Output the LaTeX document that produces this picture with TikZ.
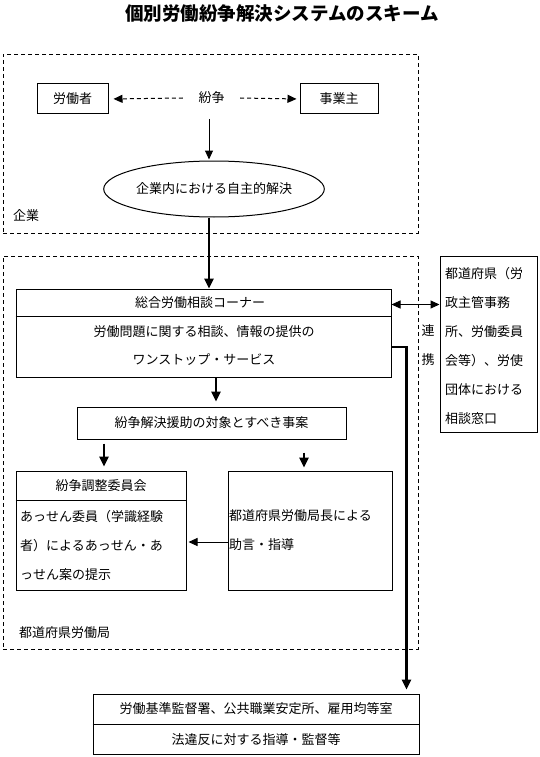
\documentclass[tikz,border=0pt]{standalone}
\usepackage{fontspec}
\setmainfont{Noto Sans CJK JP}
\usetikzlibrary{arrows.meta,shapes.geometric,calc}
\begin{document}
\begin{tikzpicture}[x=1pt,y=-1pt,
  base/.style={font=\fontsize{13}{15}\selectfont},
  box/.style={draw, rectangle, line width=1pt, inner sep=0pt, base},
  frame/.style={draw, rectangle, dash pattern=on 4pt off 3pt, line width=0.9pt, inner sep=0pt},
  txt/.style={inner sep=0pt, base},
  ltxt/.style={txt, anchor=west},
  thinarr/.style={line width=1pt, -{Triangle[length=9pt,width=8pt]}},
  dasharr/.style={thinarr, dash pattern=on 4pt off 3pt},
  thkarr/.style={line width=2.4pt, -{Triangle[length=10pt,width=9pt]}},
  dblarr/.style={line width=1pt, {Triangle[length=9pt,width=8pt]}-{Triangle[length=9pt,width=8pt]}}
]
\useasboundingbox (0,0) rectangle (540,757);
\fill[white] (0,0) rectangle (540,757);

% title
\node[inner sep=0pt, font=\fontsize{18.5}{20}\selectfont\bfseries] (title) at (282,13) {個別労働紛争解決システムのスキーム};

% company frame
\node[frame, minimum width=415pt, minimum height=179pt] (kigyo) at (210.5,143.5) {};
\node[ltxt] (kigyolbl) at (13,216) {企業};

\node[box, minimum width=71pt, minimum height=30pt] (worker) at (72.5,99) {労働者};
\node[box, minimum width=78pt, minimum height=30pt] (employer) at (339,99) {事業主};
\node[txt, minimum width=57pt] (dispute) at (211.5,98) {紛争};
\draw[dasharr, shorten >=5pt] (dispute.west) -- (worker.east);
\draw[dasharr, shorten >=3pt] (dispute.east) -- (employer.west);

\node[draw, ellipse, line width=1pt, inner sep=0pt, minimum width=213pt, minimum height=56pt, base] (self) at (214,189) {企業内における自主的解決};
\coordinate (d0) at (209,119);
\draw[thinarr, shorten >=1pt] (d0) -- (d0 |- self.north);

% labour bureau frame
\node[frame, minimum width=415pt, minimum height=393pt] (kyoku) at (210.5,452.5) {};
\node[ltxt] (kyokulbl) at (19,633) {都道府県労働局};

% general counselling corner
\node[box, minimum width=375pt, minimum height=88pt] (sogo) at (203.5,333) {};
\draw[line width=1pt] ([yshift=-28pt]sogo.north west) -- ([yshift=-28pt]sogo.north east);
\node[txt] (sogo1) at (200,303) {総合労働相談コーナー};
\node[txt] (sogo2) at (204,332) {労働問題に関する相談、情報の提供の};
\node[txt] (sogo3) at (204,360) {ワンストップ・サービス};

\draw[thkarr] (d0 |- self.south) -- (d0 |- sogo.north);

% cooperation box
\node[box, minimum width=97pt, minimum height=176pt] (renkei) at (488.5,344) {};
\node[ltxt] (r1) at (445,274) {都道府県（労};
\node[ltxt] (r2) at (445,303) {政主管事務};
\node[ltxt] (r3) at (445,332) {所、労働委員};
\node[ltxt] (r4) at (445,361) {会等）、労使};
\node[ltxt] (r5) at (445,390) {団体における};
\node[ltxt] (r6) at (445,419) {相談窓口};
\node[txt] (ren) at (428,331) {連};
\node[txt] (kei) at (428,360) {携};
\coordinate (da) at ([yshift=-16pt]sogo.north east);
\draw[dblarr] (da) -- (da -| renkei.west);

% target cases
\node[box, minimum width=269pt, minimum height=32pt] (taisho) at (211.5,423) {紛争解決援助の対象とすべき事案};
\coordinate (ta) at ([xshift=4.5pt]taisho.north);
\draw[thkarr, shorten >=5pt] (sogo.south -| ta) -- (ta);

% mediation committee
\node[box, minimum width=170pt, minimum height=119pt] (chosei) at (101,530.5) {};
\draw[line width=1pt] ([yshift=-30pt]chosei.north west) -- ([yshift=-30pt]chosei.north east);
\node[txt] (c0) at (101,486) {紛争調整委員会};
\node[ltxt] (c1) at (20,517) {あっせん委員（学識経験};
\node[ltxt] (c2) at (20,546) {者）によるあっせん・あ};
\node[ltxt] (c3) at (20,575) {っせん案の提示};

% director advice
\node[box, minimum width=164pt, minimum height=119pt] (jogen) at (310,530.5) {};
\node[ltxt] (j1) at (229,516) {都道府県労働局長による};
\node[ltxt] (j2) at (229,545) {助言・指導};

\coordinate (ca) at ([xshift=3pt]chosei.north);
\coordinate (ja) at ([xshift=-6pt]jogen.north);
\coordinate (jw) at ([yshift=-11.5pt]jogen.west);
\draw[thkarr, shorten <=4pt, shorten >=4pt] (ca |- taisho.south) -- (ca);
\draw[thkarr, shorten <=13pt, shorten >=3pt] (ja |- taisho.south) -- (ja);
\draw[thinarr, shorten >=2pt] (jw) -- (jw -| chosei.east);

% inspection offices
\node[box, minimum width=326pt, minimum height=60pt] (kantoku) at (256,724) {};
\draw[line width=1pt] (kantoku.west) -- (kantoku.east);
\node[txt] (k1) at (256,709) {労働基準監督署、公共職業安定所、雇用均等室};
\node[txt] (k2) at (256,740) {法違反に対する指導・監督等};

\coordinate (se) at ([yshift=-14pt]sogo.east);
\coordinate (ke) at ([xshift=-13pt]kantoku.north east);
\draw[thkarr, shorten >=4pt] (se) -| (ke);
\end{tikzpicture}
\end{document}
